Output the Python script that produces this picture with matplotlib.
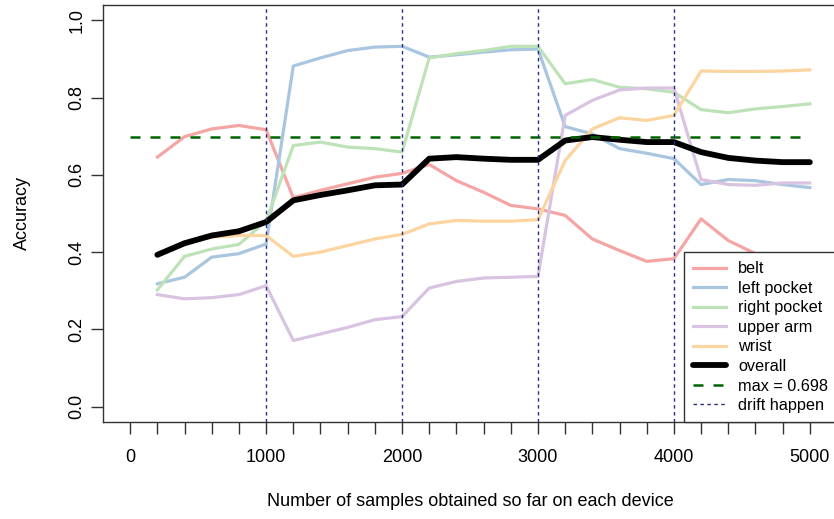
import matplotlib
matplotlib.use("Agg")
import matplotlib.pyplot as plt

plt.rcParams['font.family'] = ['Liberation Sans', 'DejaVu Sans']

# samples seen per device (x axis)
samples = [200, 400, 600, 800, 1000, 1200, 1400, 1600, 1800, 2000,
           2200, 2400, 2600, 2800, 3000, 3200, 3400, 3600, 3800, 4000,
           4200, 4400, 4600, 4800, 5000]

# accuracy per device position
belt = [0.646, 0.699, 0.719, 0.728, 0.717, 0.541, 0.560, 0.577, 0.594, 0.604,
        0.627, 0.585, 0.555, 0.521, 0.512, 0.495, 0.434, 0.404, 0.376, 0.383,
        0.486, 0.430, 0.396, 0.371, 0.359]
left_pocket = [0.318, 0.335, 0.387, 0.396, 0.421, 0.882, 0.903, 0.922, 0.931, 0.933,
               0.905, 0.911, 0.918, 0.924, 0.926, 0.725, 0.706, 0.668, 0.656, 0.642,
               0.575, 0.588, 0.585, 0.575, 0.567]
right_pocket = [0.302, 0.389, 0.408, 0.420, 0.480, 0.676, 0.685, 0.672, 0.668, 0.659,
                0.903, 0.914, 0.922, 0.933, 0.933, 0.836, 0.847, 0.827, 0.823, 0.814,
                0.769, 0.761, 0.771, 0.777, 0.784]
upper_arm = [0.290, 0.279, 0.282, 0.290, 0.313, 0.171, 0.188, 0.205, 0.225, 0.233,
             0.307, 0.324, 0.333, 0.335, 0.337, 0.754, 0.793, 0.820, 0.825, 0.825,
             0.588, 0.575, 0.573, 0.579, 0.579]
wrist = [0.396, 0.423, 0.439, 0.443, 0.443, 0.389, 0.400, 0.417, 0.434, 0.446,
         0.473, 0.482, 0.480, 0.480, 0.484, 0.637, 0.719, 0.748, 0.741, 0.754,
         0.869, 0.868, 0.868, 0.869, 0.872]
overall = [0.393, 0.423, 0.443, 0.454, 0.478, 0.534, 0.548, 0.560, 0.573, 0.575,
           0.642, 0.646, 0.642, 0.639, 0.639, 0.689, 0.698, 0.691, 0.685, 0.685,
           0.659, 0.644, 0.637, 0.633, 0.633]

max_acc = 0.698
drift_points = [1000, 2000, 3000, 4000]

device_names = ["belt", "left pocket", "right pocket", "upper arm", "wrist"]
device_colors = ["#F4A5A4", "#A9C5DF", "#BEE2B7", "#D8C3E1", "#FCD49F"]

fig = plt.figure(figsize=(8.34, 5.19), dpi=100)
ax = fig.add_axes([103 / 834, 1 - 422 / 519, 734 / 834, 417 / 519])

handles = []
for name, series, color in zip(device_names,
                               [belt, left_pocket, right_pocket, upper_arm, wrist],
                               device_colors):
    h, = ax.plot(samples, series, color=color, lw=2.3, label=name,
                 solid_joinstyle='round')
    handles.append(h)

h, = ax.plot(samples, overall, color='black', lw=4.2, label="overall",
             solid_capstyle='round', solid_joinstyle='round')
handles.append(h)

h, = ax.plot([0, 5000], [max_acc, max_acc], color='#006400', lw=1.8,
             linestyle=(0, (4, 4)), label="max = %.3f" % max_acc)
handles.append(h)

for i, d in enumerate(drift_points):
    ln = ax.axvline(d, color='#2A2A8A', lw=1.0, linestyle=(0, (2.5, 2.5)),
                    label="drift happen" if i == 0 else None)
    if i == 0:
        handles.append(ln)

ax.set_xlim(-200, 5200)
ax.set_ylim(-0.04, 1.04)

ax.set_xticks(range(0, 5001, 200))
ax.set_xticklabels([str(v) if v % 1000 == 0 else "" for v in range(0, 5001, 200)])
ax.set_yticks([0.0, 0.2, 0.4, 0.6, 0.8, 1.0])
ax.set_yticklabels(["0.0", "0.2", "0.4", "0.6", "0.8", "1.0"], rotation=90, va='center')

ax.tick_params(axis='x', length=8.5, width=1.0, pad=11, labelsize=13, color='#333333')
ax.tick_params(axis='y', length=8.5, width=1.0, pad=4, labelsize=13, color='#333333')
for s in ax.spines.values():
    s.set_linewidth(1.0)
    s.set_color('#333333')

ax.set_xlabel("Number of samples obtained so far on each device", fontsize=13)
ax.xaxis.label.set_va('center')
ax.xaxis.set_label_coords(0.5, (422 - 502) / 417)
ax.set_ylabel("Accuracy", fontsize=13)
ax.yaxis.label.set_va('center')
ax.yaxis.set_label_coords((22 - 103) / 734, 0.5)

leg = ax.legend(handles=handles, loc='lower right', bbox_to_anchor=(1.0, 0.0),
                borderaxespad=0, fontsize=11.7, frameon=True, fancybox=False,
                framealpha=1, edgecolor='#333333', handlelength=2.0,
                handletextpad=0.75, labelspacing=0.28, borderpad=0.55)
leg.get_frame().set_linewidth(1.0)

fig.savefig("out.png", dpi=100)
